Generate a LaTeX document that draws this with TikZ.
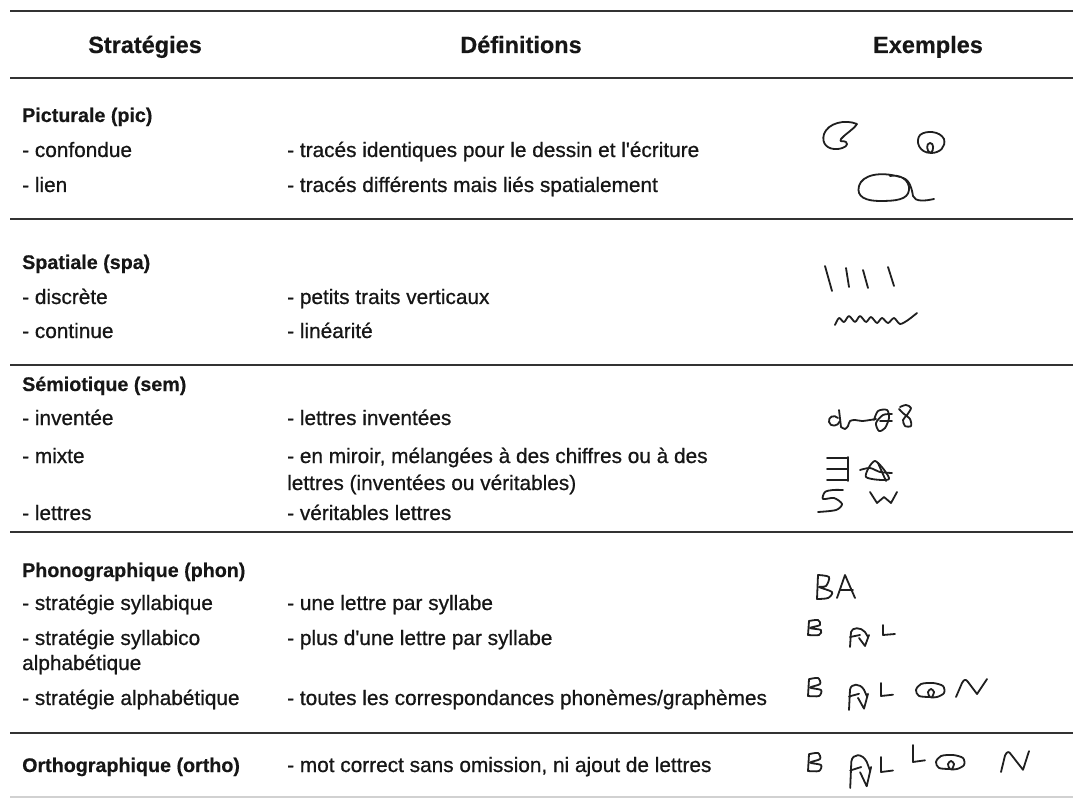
\documentclass[tikz,border=0pt]{standalone}
\usepackage{fontspec}
\setmainfont{Liberation Sans}
\newfontfamily\bodyfont{Liberation Sans}[FakeBold=0.7]
\newfontfamily\boldfont{Liberation Sans Bold}[FakeBold=0.4]
\definecolor{txt}{HTML}{161616}
\definecolor{rule}{HTML}{333333}
\begin{document}
\begin{tikzpicture}[x=1pt,y=-1pt,
  hdr/.style={font=\fontsize{23.5}{28}\boldfont, anchor=base, text=txt, inner sep=0pt},
  cat/.style={font=\fontsize{19.7}{24}\boldfont, anchor=base west, text=txt, inner sep=0pt},
  item/.style={font=\fontsize{20.8}{24}\bodyfont, anchor=base west, text=txt, inner sep=0pt},
  hrule/.style={draw=rule, line width=2.4pt},
  hand/.style={draw=black!88, line width=1.8pt, line cap=round, line join=round}]
\useasboundingbox (0,0) rectangle (1073,799);
\fill[white] (0,0) rectangle (1073,799);
% rules
\draw[hrule] (10,11) -- (1073,11);
\draw[hrule] (10,78) -- (1073,78);
\draw[hrule] (10,219) -- (1073,219);
\draw[hrule] (10,365) -- (1073,365);
\draw[hrule] (10,532) -- (1073,532);
\draw[hrule] (10,733) -- (1073,733);
\draw[draw=black!18, line width=1.5pt] (10,797) -- (1073,797);
% header
\node[hdr] (hS) at (145,53) {Stratégies};
\node[hdr] (hD) at (521,53) {Définitions};
\node[hdr] (hE) at (928,53) {Exemples};
% Picturale
\node[cat] (pic) at (22,122) {Picturale (pic)};
\node[item] (pic1) at (22,157) {- confondue};
\node[item] (pic2) at (22,192) {- lien};
\node[item] (picd1) at (287,157) {- tracés identiques pour le dessin et l'écriture};
\node[item] (picd2) at (287,192) {- tracés différents mais liés spatialement};
% Spatiale
\node[cat] (spa) at (22,269) {Spatiale (spa)};
\node[item] (spa1) at (22,304) {- discrète};
\node[item] (spa2) at (22,338) {- continue};
\node[item] (spad1) at (287,304) {- petits traits verticaux};
\node[item] (spad2) at (287,338) {- linéarité};
% Semiotique
\node[cat] (sem) at (22,391) {Sémiotique (sem)};
\node[item] (sem1) at (22,425) {- inventée};
\node[item] (sem2) at (22,463) {- mixte};
\node[item] (sem3) at (22,520) {- lettres};
\node[item] (semd1) at (287,425) {- lettres inventées};
\node[item] (semd2a) at (287,463) {- en miroir, mélangées à des chiffres ou à des};
\node[item] (semd2b) at (287,490) {lettres (inventées ou véritables)};
\node[item] (semd3) at (287,520) {- véritables lettres};
% Phonographique
\node[cat] (pho) at (22,577) {Phonographique (phon)};
\node[item] (pho1) at (22,610) {- stratégie syllabique};
\node[item] (pho2a) at (22,645) {- stratégie syllabico};
\node[item] (pho2b) at (22,670) {alphabétique};
\node[item] (pho3) at (22,705) {- stratégie alphabétique};
\node[item] (phod1) at (287,610) {- une lettre par syllabe};
\node[item] (phod2) at (287,645) {- plus d'une lettre par syllabe};
\node[item] (phod3) at (287,705) {- toutes les correspondances phonèmes/graphèmes};
% Orthographique
\node[cat] (ort) at (22,772) {Orthographique (ortho)};
\node[item] (ortd) at (287,772) {- mot correct sans omission, ni ajout de lettres};

% ---------- handwritten examples ----------
% Picturale
\draw[hand] (857,124) .. controls (845,119) and (828,123) .. (824,134) .. controls (821,144) and (828,150) .. (838,149) .. controls (845,148) and (849,145) .. (846,142) .. controls (843,140) and (839,143) .. (841,139) .. controls (845,134) and (853,130) .. (857,124);
\draw[hand] (931,153) .. controls (919,153) and (915,141) .. (920,135) .. controls (926,130) and (940,131) .. (944,139) .. controls (946,147) and (940,153) .. (931,153) .. controls (926,152) and (926,143) .. (930,143) .. controls (934,143) and (934,150) .. (931,153);
\draw[hand] (900,177) .. controls (880,171) and (862,175) .. (859,186) .. controls (856,197) and (866,201) .. (880,201) .. controls (895,201) and (908,200) .. (909,190) .. controls (910,180) and (900,174) .. (890,176);
\draw[hand] (903,178) .. controls (910,180) and (912,190) .. (913,196) .. controls (915,202) and (925,201) .. (934,199);
% Spatiale
\draw[hand] (825,266) -- (832,291);
\draw[hand] (846,268) -- (849,287);
\draw[hand] (863,270) -- (868,288);
\draw[hand] (888,267) -- (894,286);
\draw[hand] plot[smooth] coordinates {(835,325) (839,318) (844,322) (849,316) (855,322) (860,316) (866,322) (871,317) (877,323) (882,318) (888,323) (894,318) (900,324) (908,320) (917,313)};
% Semiotique - inventee
\draw[hand] (838,418) .. controls (834,414) and (828,417) .. (829,422) .. controls (830,427) and (838,427) .. (840,421);
\draw[hand] (839,410) -- (841,427);
\draw[hand] plot[smooth] coordinates {(841,427) (845,429) (848,426) (850,421) (855,420) (862,421) (870,420) (876,419)};
\draw[hand] plot[smooth] coordinates {(874,420) (878,411) (887,410) (889,418) (885,428) (879,431) (876,423) (883,415) (892,414)};
\draw[hand] (880,421) -- (892,421);
\draw[hand] plot[smooth] coordinates {(900,407) (906,405) (911,408) (907,415) (903,420) (905,426) (911,426) (910,419) (904,414) (899,409)};
% Semiotique - mixte
\draw[hand] (827,458) -- (848,458);
\draw[hand] (827,469) -- (848,469);
\draw[hand] (827,480) -- (848,480);
\draw[hand] (848,457) -- (848,481);
\draw[hand] plot[smooth] coordinates {(860,470) (870,468) (880,472) (892,473)};
\draw[hand] plot[smooth cycle] coordinates {(875,461) (866,477) (889,479)};
\draw[hand] (878,463) -- (886,481);
\draw[hand] plot[smooth] coordinates {(843,490) (833,490) (825,492) (823,499) (834,498) (842,504) (836,510) (818,512)};
\draw[hand] (870,492) -- (877,503) -- (884,497) -- (891,503) -- (897,492);
% Phonographique row 1 : BA
\draw[hand] (818,575) -- (817,599);
\draw[hand] plot[smooth] coordinates {(818,575) (829,577) (826,586) (819,587) (832,592) (828,598) (817,599)};
\draw[hand] (837,598) -- (845,575) -- (855,598);
\draw[hand] (840,590) -- (853,590);
% row 2
\begin{scope}[shift={(807,620)}]
  \draw[hand] (2,1) -- (1,15);
  \draw[hand] plot[smooth] coordinates {(2,1) (11,0) (13,5) (3,8) (14,10) (12,15) (1,15)};
\end{scope}
\begin{scope}[shift={(848,627)}]
  \draw[hand] (2,20) -- (3,5) .. controls (4,0) and (13,0) .. (17,5) -- (20,10);
  \draw[hand] (2,10) -- (12,8);
  \draw[hand] (11,11) -- (17,19) -- (21,8);
\end{scope}
\begin{scope}[shift={(882,625)}]
  \draw[hand] (1,0) -- (1,10) -- (13,9);
\end{scope}
% row 3
\begin{scope}[shift={(807,678)}, yscale=1.2]
  \draw[hand] (2,1) -- (1,15);
  \draw[hand] plot[smooth] coordinates {(2,1) (11,0) (13,5) (3,8) (14,10) (12,15) (1,15)};
\end{scope}
\begin{scope}[shift={(847,683)}, yscale=1.35]
  \draw[hand] (2,20) -- (3,5) .. controls (4,0) and (13,0) .. (17,5) -- (20,10);
  \draw[hand] (2,10) -- (12,8);
  \draw[hand] (11,11) -- (17,19) -- (21,8);
\end{scope}
\begin{scope}[shift={(880,683)}, yscale=1.3]
  \draw[hand] (1,0) -- (1,10) -- (13,9);
\end{scope}
\begin{scope}[shift={(915,683)}]
  \draw[hand] plot[smooth] coordinates {(15,14) (4,13) (1,7) (6,1) (18,0) (28,3) (29,10) (22,14) (15,14) (13,9) (16,6) (19,9) (17,14)};
\end{scope}
\begin{scope}[shift={(955,678)}]
  \draw[hand] (1,19) -- (7,5) .. controls (9,1) and (11,1) .. (13,4) -- (22,16) -- (32,1);
\end{scope}
% Orthographique
\begin{scope}[shift={(807,753)}, yscale=1.2]
  \draw[hand] (2,1) -- (1,15);
  \draw[hand] plot[smooth] coordinates {(2,1) (11,0) (13,5) (3,8) (14,10) (12,15) (1,15)};
\end{scope}
\begin{scope}[shift={(848,753)}, xscale=1.1, yscale=1.75]
  \draw[hand] (2,20) -- (3,5) .. controls (4,0) and (13,0) .. (17,5) -- (20,10);
  \draw[hand] (2,10) -- (12,8);
  \draw[hand] (11,11) -- (17,19) -- (21,8);
\end{scope}
\begin{scope}[shift={(880,757)}, yscale=1.5]
  \draw[hand] (1,0) -- (1,10) -- (13,9);
\end{scope}
\begin{scope}[shift={(912,745)}, yscale=1.7]
  \draw[hand] (1,0) -- (1,10) -- (13,9);
\end{scope}
\begin{scope}[shift={(935,755)}]
  \draw[hand] plot[smooth] coordinates {(15,14) (4,13) (1,7) (6,1) (18,0) (28,3) (29,10) (22,14) (15,14) (13,9) (16,6) (19,9) (17,14)};
\end{scope}
\begin{scope}[shift={(1000,750)}, yscale=1.1]
  \draw[hand] (1,20) -- (5,5) .. controls (7,1) and (9,1) .. (11,4) -- (23,18) -- (29,1);
\end{scope}
\end{tikzpicture}
\end{document}
